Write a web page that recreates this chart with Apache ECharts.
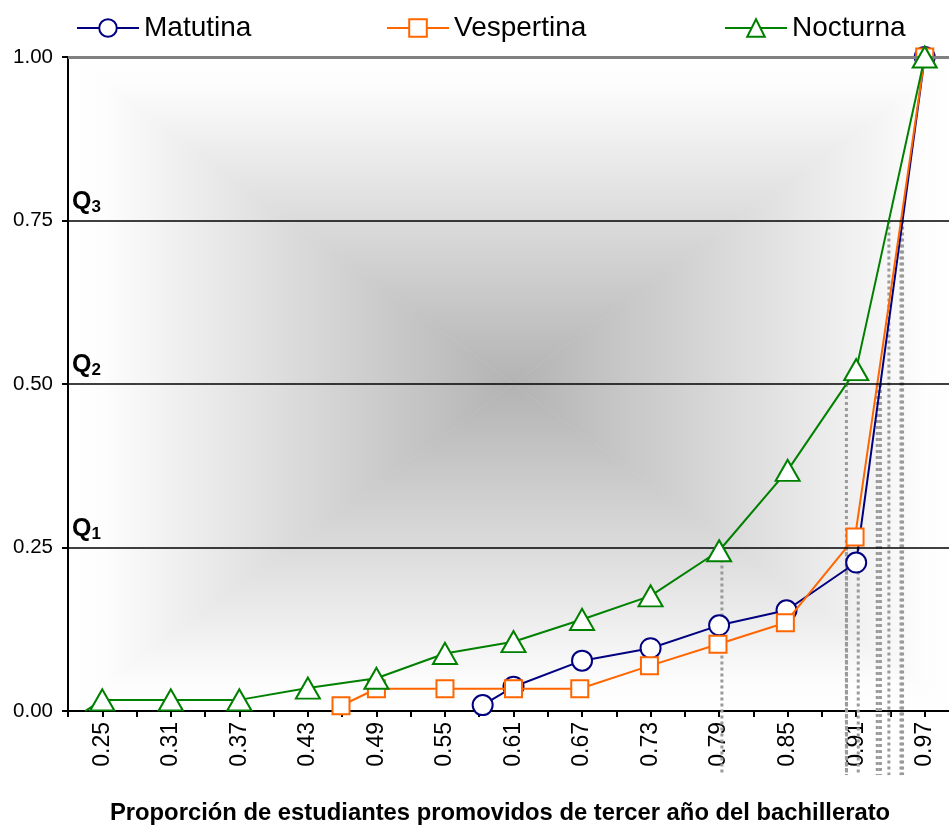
<!DOCTYPE html>
<html>
<head>
<meta charset="utf-8">
<script src="https://cdn.jsdelivr.net/npm/echarts@6/dist/echarts.min.js"></script>
<style>html,body{margin:0;padding:0;background:#fff;overflow:hidden;width:949px;height:832px}#c{width:959px;height:832px}</style>
</head>
<body>
<div id="c"></div>
<script>
// ---- data ----
const seriesNames = ['Matutina', 'Vespertina', 'Nocturna'];
const matX = [0.583, 0.61, 0.67, 0.73, 0.79, 0.849, 0.91, 0.97];
const matY = [0.009, 0.037, 0.077, 0.096, 0.131, 0.154, 0.227, 1.0];
const vesX = [0.459, 0.49, 0.55, 0.61, 0.668, 0.729, 0.789, 0.848, 0.909, 0.97];
const vesY = [0.008, 0.034, 0.034, 0.034, 0.034, 0.069, 0.102, 0.135, 0.266, 1.0];
const nocX = [0.235, 0.25, 0.31, 0.37, 0.43, 0.49, 0.55, 0.61, 0.67, 0.73, 0.79, 0.85, 0.91, 0.97];
const nocY = [0.0, 0.017, 0.017, 0.017, 0.035, 0.05, 0.088, 0.106, 0.14, 0.176, 0.245, 0.368, 0.522, 1.0];
const quartiles = [0.25, 0.5, 0.75];
const quartileNames = ['1', '2', '3'];
const yTicks = [0, 0.25, 0.5, 0.75, 1.0];
const xAxisTitle = 'Proporción de estudiantes promovidos de tercer año del bachillerato';

// ---- layout ----
const W = 959, H = 832;
const G = {left: 68, top: 57, right: 0, bottom: 121};
const gx0 = G.left, gy0 = G.top, gx1 = W - G.right, gy1 = H - G.bottom;
const cx = (gx0 + gx1) / 2, cy = (gy0 + gy1) / 2;

function crossing(xs, ys, q) {
  for (let i = 1; i < xs.length; i++) {
    if (ys[i - 1] < q && ys[i] >= q) {
      return xs[i - 1] + (q - ys[i - 1]) / (ys[i] - ys[i - 1]) * (xs[i] - xs[i - 1]);
    }
  }
  return null;
}
const zip = (xs, ys) => xs.map((x, i) => [x, ys[i]]);

const qLines = [];
[[matX, matY], [vesX, vesY], [nocX, nocY]].forEach(([xs, ys]) => {
  quartiles.forEach(q => {
    const x = crossing(xs, ys, q);
    if (x !== null) {
      qLines.push({
        type: 'line', silent: true, clip: false, symbol: 'none', z: 1,
        lineStyle: {color: '#9a9a9a', width: 3, type: [3, 3], cap: 'butt'},
        data: [[x, q], [x, -0.098]]
      });
    }
  });
});

function grad(x, y, x2, y2) {
  return {type: 'linear', x: x, y: y, x2: x2, y2: y2, global: true,
    colorStops: [{offset: 0, color: '#ffffff'}, {offset: 0.08, color: '#fdfdfd'}, {offset: 1, color: '#b3b3b3'}]};
}
const bg = [
  {pts: [[gx0, gy0], [gx1, gy0], [cx, cy]], g: grad(0, gy0, 0, cy)},
  {pts: [[gx0, gy1], [gx1, gy1], [cx, cy]], g: grad(0, gy1, 0, cy)},
  {pts: [[gx0, gy0], [gx0, gy1], [cx, cy]], g: grad(gx0, 0, cx, 0)},
  {pts: [[gx1, gy0], [gx1, gy1], [cx, cy]], g: grad(gx1, 0, cx, 0)}
].map(t => ({type: 'polygon', z: -10, silent: true, shape: {points: t.pts}, style: {fill: t.g, stroke: t.g, lineWidth: 0.6}}));

const FONT = 'Liberation Sans, Arial, sans-serif';
const legendCommon = {top: 9, itemWidth: 62, itemHeight: 22, itemGap: 0,
  textStyle: {fontSize: 28, color: '#000', fontFamily: FONT}};

const chart = echarts.init(document.getElementById('c'));
chart.setOption({
  animation: false,
  backgroundColor: '#fff',
  textStyle: {fontFamily: FONT},
  graphic: bg,
  legend: [
    Object.assign({left: 71, data: [seriesNames[0]]}, legendCommon),
    Object.assign({left: 381, data: [seriesNames[1]]}, legendCommon),
    Object.assign({left: 719, data: [seriesNames[2]]}, legendCommon)
  ],
  grid: G,
  xAxis: {
    type: 'value', min: 0.22, max: 1.0, interval: 0.03,
    axisLine: {lineStyle: {color: '#000', width: 2}},
    axisTick: {length: 6, lineStyle: {color: '#000', width: 2}},
    splitLine: {show: false},
    axisLabel: {
      rotate: 90, fontSize: 23, color: '#000', margin: 11, fontFamily: FONT,
      formatter: v => {
        const k = (v - 0.25) / 0.06;
        return Math.abs(k - Math.round(k)) < 1e-6 ? v.toFixed(2) : '';
      }
    },
    name: xAxisTitle, nameLocation: 'middle', nameGap: 90,
    nameTextStyle: {fontSize: 23.8, fontWeight: 'bold', color: '#000', fontFamily: FONT, padding: [0, 27, 0, 0]}
  },
  yAxis: {
    type: 'value', min: 0, max: 1, interval: 0.25,
    axisLine: {show: true, lineStyle: {color: '#000', width: 2}},
    axisTick: {show: true, length: 6, lineStyle: {color: '#000', width: 2}},
    splitLine: {show: false},
    axisLabel: {fontSize: 20.5, color: '#000', margin: 15, fontFamily: FONT, formatter: v => v.toFixed(2)}
  },
  series: [
    {
      type: 'line', name: 'refs', data: [], silent: true, z: 1,
      markLine: {
        silent: true, symbol: ['none', 'none'], animation: false,
        data: [
          {yAxis: yTicks[4], lineStyle: {color: '#808080', width: 3, type: 'solid'}, label: {show: false}},
          ...quartiles.map((q, i) => ({
            yAxis: q,
            lineStyle: {color: '#000', width: 1.5, type: 'solid'},
            label: {
              show: true, position: 'insideStartTop', distance: [4, 5],
              formatter: '{q|Q}{s|' + quartileNames[i] + '}',
              rich: {
                q: {fontSize: 25, fontWeight: 'bold', color: '#000', lineHeight: 26, verticalAlign: 'top', fontFamily: FONT},
                s: {fontSize: 17, fontWeight: 'bold', color: '#000', lineHeight: 17, verticalAlign: 'bottom', padding: [13, 0, 0, 0], fontFamily: FONT}
              }
            }
          }))
        ]
      }
    },
    ...qLines,
    {
      type: 'line', name: seriesNames[0], data: zip(matX, matY), z: 3,
      symbol: 'circle', symbolSize: 20, showAllSymbol: true,
      lineStyle: {color: '#000080', width: 2},
      itemStyle: {color: '#ffffff', borderColor: '#000080', borderWidth: 2}
    },
    {
      type: 'line', name: seriesNames[1], data: zip(vesX, vesY), z: 4,
      symbol: 'rect', symbolSize: 17, showAllSymbol: true,
      lineStyle: {color: '#ff6600', width: 2},
      itemStyle: {color: '#ffffff', borderColor: '#ff6600', borderWidth: 2}
    },
    {
      type: 'line', name: seriesNames[2], z: 5,
      data: zip(nocX, nocY).map((p, i) => i === 0 ? {value: p, symbol: 'none'} : p),
      symbol: 'triangle', symbolSize: [24, 21], showAllSymbol: true,
      lineStyle: {color: '#008000', width: 2},
      itemStyle: {color: '#ffffff', borderColor: '#008000', borderWidth: 2}
    }
  ]
});
</script>
</body>
</html>
